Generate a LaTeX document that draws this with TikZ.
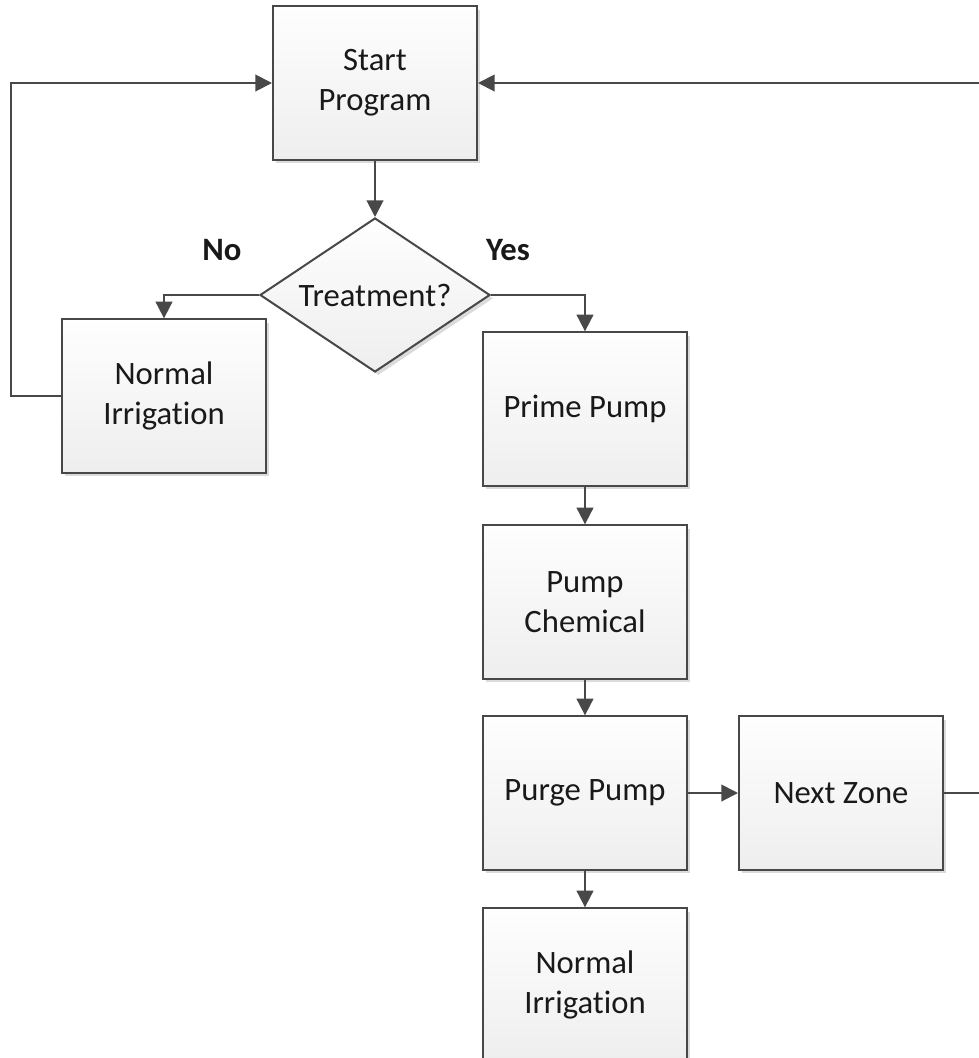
\documentclass[tikz,border=0pt]{standalone}
\usepackage{fontspec}
\setmainfont[Ligatures=NoCommon]{Carlito}
\usetikzlibrary{positioning,arrows.meta,shapes.geometric,shadows}
\definecolor{cBoxTop}{RGB}{254,254,254}
\definecolor{cBoxBot}{RGB}{238,238,238}
\definecolor{eLine}{RGB}{72,72,72}
\definecolor{eText}{RGB}{25,25,25}
\tikzset{
  proc/.style ={draw=eLine,line width=1.5pt,top color=cBoxTop,bottom color=cBoxBot,
                minimum width=153pt,minimum height=115pt,align=center,
                font=\fontsize{24.5}{30}\selectfont,text=eText,
                drop shadow={shadow xshift=2.5pt,shadow yshift=-2.5pt,fill=black!20,opacity=0.7}},
  dec/.style  ={proc,diamond,aspect=1.5,inner sep=0pt,
                minimum width=172.5pt,minimum height=115.5pt},
  ed/.style   ={-{Triangle[length=12.5pt,width=12.5pt]},draw=eLine,line width=1.5pt},
  lbl/.style  ={font=\fontsize{24.5}{30}\selectfont\bfseries,text=eText,inner sep=1pt},
}
\begin{document}
\begin{tikzpicture}[x=0.75pt,y=-0.75pt]
\useasboundingbox (0,0) rectangle (979,1058);

\node[proc] (start) at (375,83) {Start\\Program};
\node[dec]  (treat) at (375,295) {Treatment?};
\node[proc] (normL) at (164,396) {Normal\\Irrigation};
\node[proc] (prime) at (585,409) {Prime Pump};
\node[proc] (chem)  at (585,602) {Pump\\Chemical};
\node[proc] (purge) at (585,793) {Purge Pump};
\node[proc] (zone)  at (841,793) {Next Zone};
\node[proc] (normB) at (585,985) {Normal\\Irrigation};

\node[lbl] (no)  at (222,250) {No};
\node[lbl] (yes) at (508,250) {Yes};

\draw[ed] (start) -- (treat);
\draw[ed] (treat.west) -| (normL.north);
\draw[ed] (treat.east) -| (prime.north);
\draw[ed] (prime) -- (chem);
\draw[ed] (chem) -- (purge);
\draw[ed] (purge) -- (normB);
\draw[ed] (purge) -- (zone);
\draw[ed] (normL.west) -- ++(-50,0) |- (start.west);
\draw[ed] (zone.east) -- ++(60,0) |- (start.east);

\end{tikzpicture}
\end{document}
